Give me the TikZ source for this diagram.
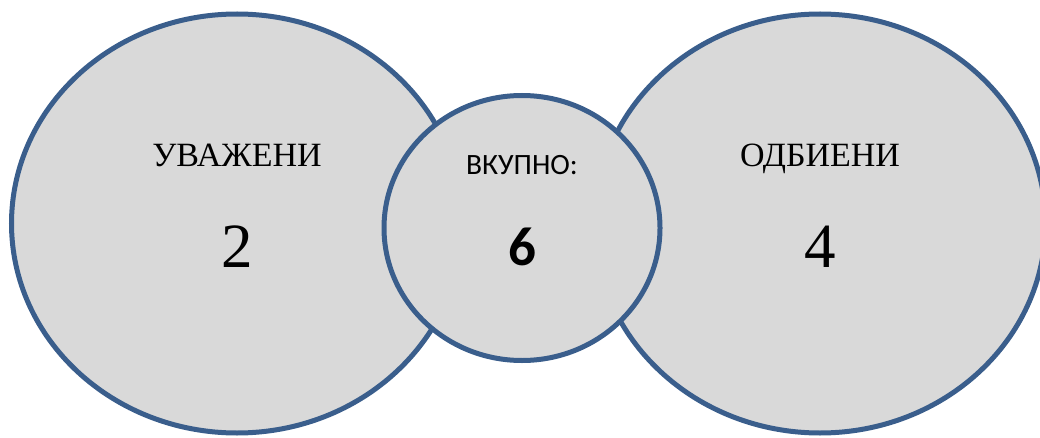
\documentclass[tikz,border=0pt]{standalone}
\usepackage{fontspec}
\setmainfont{Liberation Serif}
\newfontfamily\calibrifont{Carlito}
\usetikzlibrary{shapes.geometric,positioning}

\definecolor{ringblue}{HTML}{3A5E8C}
\definecolor{ringfill}{HTML}{D9D9D9}

\begin{document}
\begin{tikzpicture}[x=1pt, y=1pt,
    ring/.style={ellipse, draw=ringblue, fill=ringfill, line width=5pt, inner sep=0pt},
    bigring/.style={ring, minimum width=451pt, minimum height=419pt},
    smallring/.style={ring, minimum width=276pt, minimum height=265pt},
    heading/.style={anchor=base, inner sep=0pt, font=\fontsize{34}{40}\selectfont},
    count/.style={anchor=base, inner sep=0pt, font=\fontsize{63}{70}\selectfont},
    total/.style={anchor=base, inner sep=0pt, font=\calibrifont\fontsize{29.5}{34}\selectfont},
    totalcount/.style={anchor=base, inner sep=0pt, font=\calibrifont\bfseries\fontsize{55}{60}\selectfont}]
  \useasboundingbox (0,0) rectangle (1040,437);
  \node[bigring] (uvazeni) at (237,213.5) {};
  \node[bigring] (odbieni) at (820,213.5) {};
  \node[smallring] (vkupno) at (522,209) {};
  % labels
  \node[heading] (uvazeniname) at ([yshift=57pt]uvazeni.center) {УВАЖЕНИ};
  \node[count] (uvazenicount) at ([yshift=-44pt]uvazeni.center) {2};
  \node[heading] (odbieniname) at ([yshift=57pt]odbieni.center) {ОДБИЕНИ};
  \node[count] (odbienicount) at ([yshift=-44pt]odbieni.center) {4};
  \node[total] (vkupnoname) at ([yshift=53pt]vkupno.center) {ВКУПНО:};
  \node[totalcount] (vkupnocount) at ([yshift=-37pt]vkupno.center) {6};
\end{tikzpicture}
\end{document}
